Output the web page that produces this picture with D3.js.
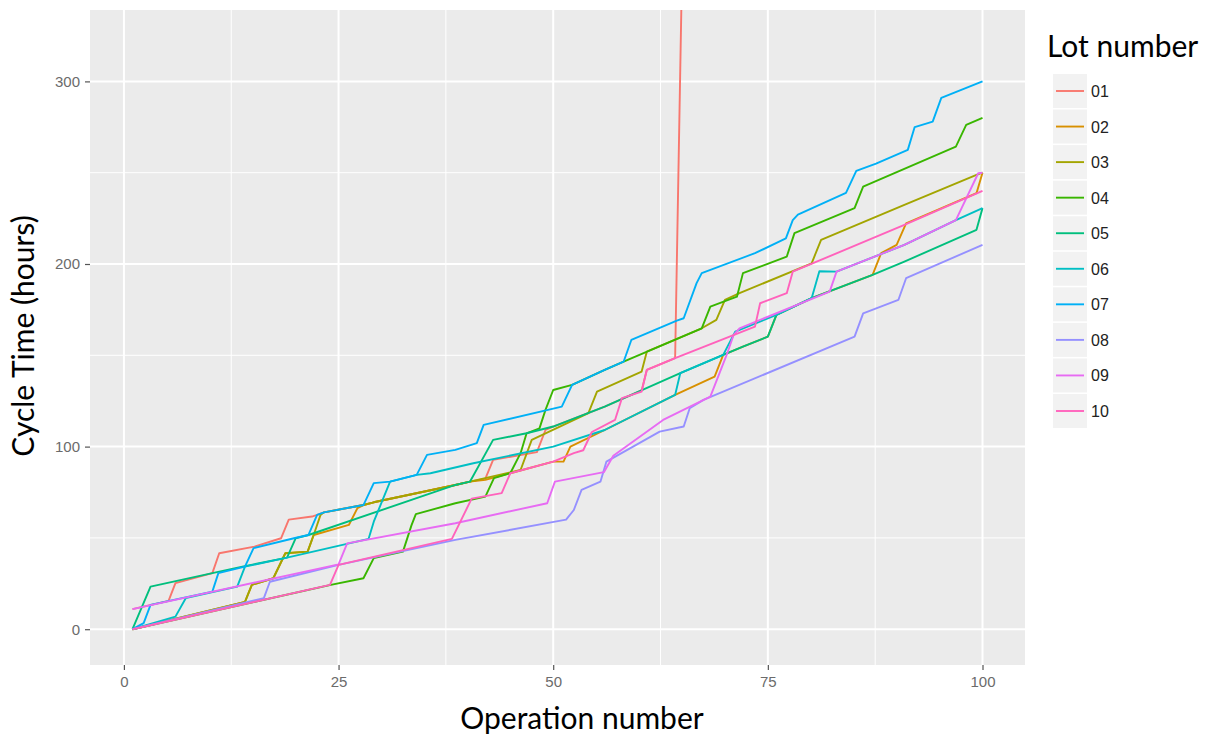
<!DOCTYPE html>
<html><head><meta charset="utf-8">
<script src="https://d3js.org/d3.v7.min.js"></script>
<style>body{margin:0;background:#fff}</style>
</head><body><svg id="c" width="1207" height="736"></svg>
<script>
// ---- data (operation number, cycle time in hours) ----
const lots = ["01","02","03","04","05","06","07","08","09","10"];
const colors = ["#F8766D","#D89000","#A3A500","#39B600","#00BF7D","#00BFC4","#00B0F6","#9590FF","#E76BF3","#FF62BC"];
const xTicks = [0,25,50,75,100];
const yTicks = [0,100,200,300];
const lot01 = [[1,11],[5.2,15.5],[6,25.2],[10.3,30.7],[11.1,41.6],[15.2,45.2],[18.3,49.8],[19.2,60],[21.9,61.7],[22.5,62.6],[23.3,64],[27.9,68],[29.1,69.5],[38.6,79],[40.3,80.8],[42.1,82.5],[43,92.7],[48.1,97],[49.1,109.1],[50,111],[56,121.9],[60.3,130.8],[60.9,142],[64.2,148.4],[65,360],[66,575]];
const lot02 = [[1,0],[14.1,15],[14.9,24.3],[17.4,27.9],[18.8,41.6],[21.4,42.5],[22.1,51.6],[26.2,57.1],[27.2,66.3],[27.9,68],[29.1,69.5],[38.6,79],[40.3,80.8],[42.1,81.8],[45,85.4],[50,91.8],[51.2,91.8],[52,100],[56,109.1],[64.2,128.3],[68.8,138.3],[69.8,150.2],[72.1,154.8],[75,160.2],[76,172.1],[80.1,181.3],[87.2,194],[88.2,206],[90,210.5],[91.1,222.3],[99.3,238.8],[100,250]];
const lot03 = [[1,0],[14.1,15],[14.9,24.3],[17.4,27.9],[18.8,41.6],[21.4,42.5],[22.1,51.6],[22.9,62.6],[23.3,64],[27.9,68],[29.1,69.5],[38.6,79],[40.3,80.8],[46.2,87.2],[47.5,103.7],[54.1,118.3],[55.1,130.1],[60.3,141.1],[60.9,152],[67.3,164.8],[69,169.4],[70,180.3],[71.7,184],[80.1,200.4],[81.2,213.2],[90.9,232.4],[99.3,248.8],[100,250]];
const lot04 = [[1,0],[24.1,24.3],[27.9,27.9],[29.1,38.9],[32.5,42.5],[33.5,57],[34,63],[38.6,69],[42.1,72.6],[43.1,82.7],[45,85.4],[46.2,96.4],[46.9,107.3],[48.4,110],[49.1,120.1],[50,131],[52.2,133.8],[56,142],[58.2,146.6],[67.3,164.8],[68.3,176.7],[71.4,182.1],[72.1,195],[77.2,204],[78.1,216.9],[85.1,230.6],[86.1,242.4],[96.9,264.3],[98.1,276.2],[100,280]];
const lot05 = [[1,0],[3.1,23.3],[10.3,30.7],[13.8,34.3],[19,39.2],[20,49.8],[21.5,51.6],[38.6,79],[40.3,80.8],[43,103.7],[46.9,107.3],[50,111],[56,121.9],[64.8,140.2],[69.8,150.2],[72.1,154.8],[75,160.2],[76,172.1],[80.1,181.3],[87.2,194],[90.9,201.3],[99.3,218.7],[100,230.6]];
const lot06 = [[1,0],[6,6.9],[7.2,17],[13.2,23.3],[14.1,34.3],[19,39.2],[28.5,49.5],[29.1,58.9],[31,80.8],[34.1,84.5],[35.7,85.4],[40.7,90.9],[50,100],[56,109.1],[64.2,128.3],[64.8,140.2],[69.8,150.2],[71.2,163],[76,172.1],[80.1,181.3],[81,196],[83,195.8],[90.9,210.5],[96.9,224],[100,230.6]];
const lot07 = [[1,0],[2.3,3.3],[3.1,13.3],[10.3,20.6],[11,30.7],[14.1,34.3],[15.1,44.4],[19.8,49.8],[21.5,51.6],[22.5,62.6],[23.3,64],[27.9,68],[29.1,80],[31,80.8],[34.1,84.5],[35.3,95.5],[38.6,98.2],[41.1,101.9],[41.9,111.9],[51,121.9],[52.2,133.8],[56,142],[58.2,146.5],[59.1,158.4],[64.4,169],[65.2,170.3],[66.7,189.5],[67.3,195],[73.5,205.9],[77.1,214],[77.9,224],[78.5,227],[84.1,239],[85.3,251],[87.6,255],[91.3,262.5],[92.1,275],[94.2,278],[95.2,291],[100,300]];
const lot08 = [[1,0],[16.3,17],[17,26],[25,35.2],[38.6,48.9],[51.5,60],[52.4,65.3],[53.3,76.3],[55.5,80.8],[56.2,91.8],[62.4,108.2],[65.2,111],[65.9,121],[67.5,125.6],[85.1,160.2],[86.1,173],[90.2,180.3],[91.1,192.2],[100,210.5]];
const lot09 = [[1,11],[25,35.5],[26,47],[38.6,58],[49.3,69],[50.2,80.8],[55.9,86],[57,95],[62.8,114.6],[68.3,127.4],[70.2,150.2],[71,161],[71.7,164.8],[82.2,184.9],[83,195.8],[90.9,210.5],[96.9,224],[99.5,249.7],[100,250]];
const lot10 = [[1,0],[24,24.3],[25,35.2],[38.2,49.5],[40.5,71.5],[44,74.5],[45,85.4],[50,91.8],[52.4,96.4],[53.5,98],[54.5,108],[57.2,114.6],[58,126.5],[60.3,130.1],[60.9,142],[64.2,148.4],[73.5,165.7],[74.1,178.5],[77.2,184],[77.9,195.8],[90.9,221.4],[100,240]];
const series = [lot01,lot02,lot03,lot04,lot05,lot06,lot07,lot08,lot09,lot10];

// ---- layout ----
const svg = d3.select("#c");
const P = {l:90, r:1025, t:10, b:665};
const x = d3.scaleLinear().domain([-3.95,104.95]).range([P.l,P.r]);
const y = d3.scaleLinear().domain([-19.6,339.1]).range([P.b,P.t]);

svg.append("rect").attr("x",P.l).attr("y",P.t).attr("width",P.r-P.l).attr("height",P.b-P.t).attr("fill","#EBEBEB");
const minorX = [12.5,37.5,62.5,87.5], minorY = [50,150,250];
const g = svg.append("g");
g.selectAll(".mx").data(minorX).join("line").attr("x1",d=>x(d)).attr("x2",d=>x(d)).attr("y1",P.t).attr("y2",P.b).attr("stroke","#fff").attr("stroke-width",1);
g.selectAll(".my").data(minorY).join("line").attr("y1",d=>y(d)).attr("y2",d=>y(d)).attr("x1",P.l).attr("x2",P.r).attr("stroke","#fff").attr("stroke-width",1);
g.selectAll(".Mx").data(xTicks).join("line").attr("x1",d=>x(d)).attr("x2",d=>x(d)).attr("y1",P.t).attr("y2",P.b).attr("stroke","#fff").attr("stroke-width",2);
g.selectAll(".My").data(yTicks).join("line").attr("y1",d=>y(d)).attr("y2",d=>y(d)).attr("x1",P.l).attr("x2",P.r).attr("stroke","#fff").attr("stroke-width",2);

svg.append("clipPath").attr("id","clip").append("rect").attr("x",P.l).attr("y",P.t).attr("width",P.r-P.l).attr("height",P.b-P.t);
const line = d3.line().x(d=>x(d[0])).y(d=>y(d[1]));
svg.append("g").attr("clip-path","url(#clip)").selectAll("path").data(series).join("path")
  .attr("d",line).attr("fill","none").attr("stroke",(d,i)=>colors[i]).attr("stroke-width",1.9).attr("stroke-linejoin","round");

// axes
const xa = svg.append("g").attr("transform",`translate(0,${P.b})`).call(d3.axisBottom(x).tickValues(xTicks).tickSize(5).tickPadding(6));
const ya = svg.append("g").attr("transform",`translate(${P.l},0)`).call(d3.axisLeft(y).tickValues(yTicks).tickSize(5).tickPadding(5));
[xa,ya].forEach(a=>{a.select(".domain").remove();a.selectAll("line").attr("stroke","#555").attr("stroke-width",1.2);
  a.selectAll("text").attr("fill","#6b6b6b").style("font-family","Liberation Sans, Arial, sans-serif").style("font-size","15px");});

svg.append("text").attr("x",582).attr("y",729).attr("text-anchor","middle").style("font-family","Lato, 'Open Sans', sans-serif").style("font-size","30px").attr("fill","#000").text("Operation number");
svg.append("text").attr("transform","translate(34,336) rotate(-90)").attr("text-anchor","middle").style("font-family","Lato, 'Open Sans', sans-serif").style("font-size","30px").attr("fill","#000").text("Cycle Time (hours)");

// legend
const lg = svg.append("g");
lg.append("text").attr("x",1047).attr("y",57).style("font-family","Lato, 'Open Sans', sans-serif").style("font-size","30px").attr("fill","#000").text("Lot number");
const ky = d3.scalePoint().domain(lots).range([91,411]);
const items = lg.selectAll(".it").data(lots).join("g").attr("transform",d=>`translate(0,${ky(d)})`);
items.append("rect").attr("x",1053).attr("y",-17).attr("width",34).attr("height",34).attr("fill","#F2F2F2");
items.append("line").attr("x1",1056).attr("x2",1084).attr("y1",0).attr("y2",0).attr("stroke",(d,i)=>colors[i]).attr("stroke-width",1.9);
items.append("text").attr("x",1091).attr("y",6).style("font-family","Liberation Sans, Arial, sans-serif").style("font-size","16px").attr("fill","#222").text(d=>d);
</script></body></html>
